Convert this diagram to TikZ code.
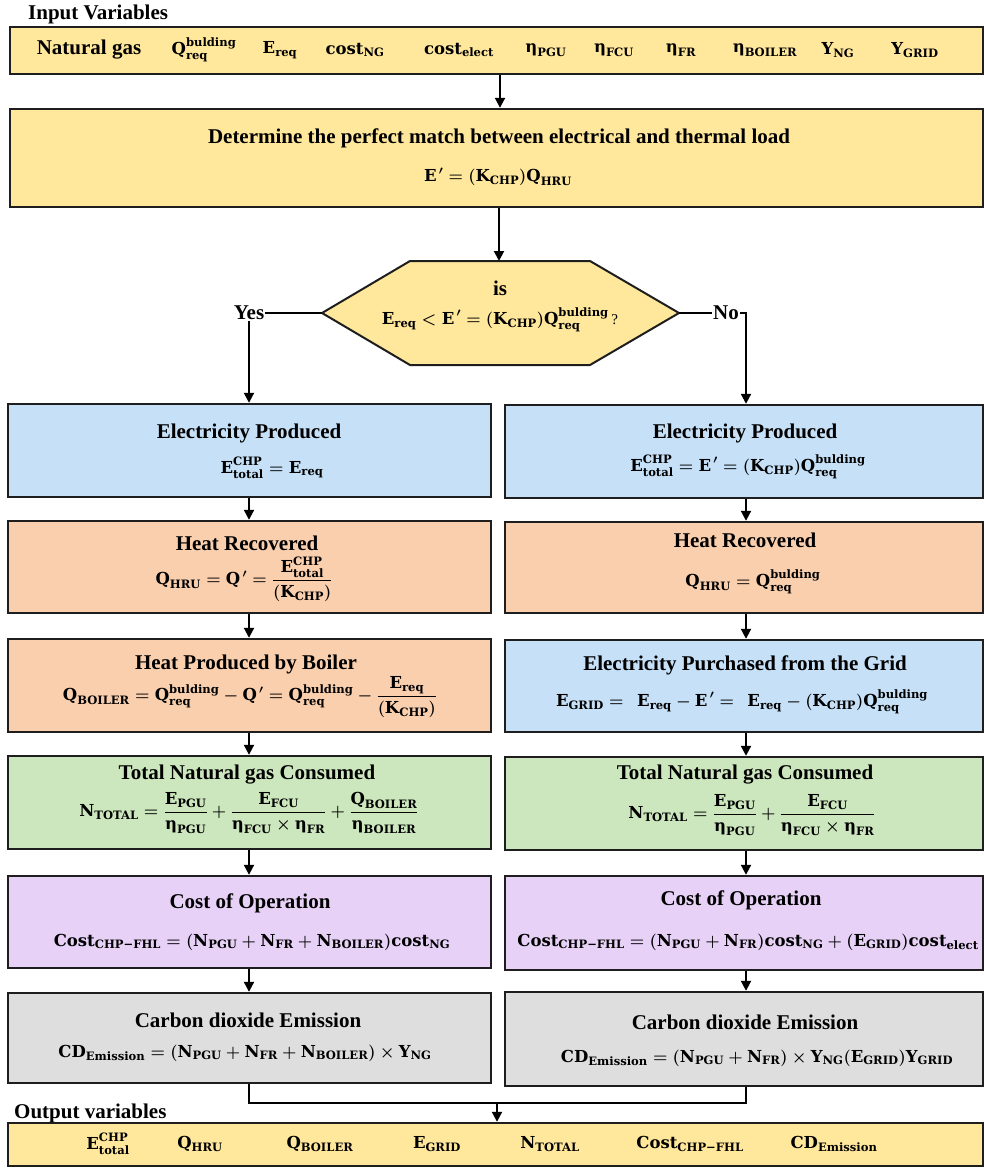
\RequirePackage{fix-cm}
\documentclass[tikz,border=0pt]{standalone}
\usepackage{amsmath}
\usepackage[no-math]{fontspec}
\setmainfont{Liberation Serif}
\newfontfamily\mfam{DejaVu Serif}
\usetikzlibrary{arrows.meta}
\definecolor{cyel}{HTML}{FFE89C}
\definecolor{cblue}{HTML}{C5E0F7}
\definecolor{cpeach}{HTML}{FACFAE}
\definecolor{cgreen}{HTML}{CCE7BD}
\definecolor{cpurp}{HTML}{E7D1F6}
\definecolor{cgray}{HTML}{DEDEDE}
\definecolor{cbord}{HTML}{1E1E1E}
\newcommand\mt[1]{\text{\mfam\bfseries #1}}
\newcommand\qv[2]{\mt{#1}_{\mt{#2}}}
\newcommand\qvv[3]{\mt{#1}_{\mt{#2}}^{\mt{#3}}}
\newcommand\etav[1]{\mt{η}_{\mt{#1}}}
\newcommand\Ups[1]{\mt{Υ}_{\mt{#1}}}
\newcommand\Qb{\qvv{Q}{req}{bulding}}
\newcommand\Et{\qvv{E}{total}{CHP}}
\newcommand\Ep{\mt{E}^{\,\prime}}
\newcommand\Qp{\mt{Q}^{\,\prime}}
\newcommand\Cst{\qv{Cost}{CHP−FHL}}
\tikzset{
  bx/.style={draw=cbord, line width=2.4pt, inner sep=0pt},
  ttl/.style={font=\fontsize{21}{24}\selectfont\bfseries, inner sep=1pt},
  fml/.style={font=\fontsize{16.5}{20}\selectfont\boldmath, inner sep=1pt},
  arr/.style={line width=2pt, draw=black, -{Triangle[length=10pt,width=10pt]}},
  ln/.style={line width=2pt, draw=black},
}
\begin{document}
\begin{tikzpicture}[x=1pt,y=-1pt]
\useasboundingbox (0,0) rectangle (984,1172);
% column guide coordinates
\coordinate (xL) at (249,0);
\coordinate (xR) at (746,0);
\coordinate (xM) at (500,0);
% input
\node[ttl, anchor=base west] (inlab) at (27,20) {Input Variables};
\node[bx, fill=cyel, minimum width=973pt, minimum height=47pt] (inbar) at (496.5,50.5) {};
\node[ttl] (i1) at (89,50) {Natural gas};
\node[fml] (i2) at (204,50) {$\Qb$};
\node[fml] (i3) at (280,50) {$\qv{E}{req}$};
\node[fml] (i4) at (355,50) {$\qv{cost}{NG}$};
\node[fml] (i5) at (459,50) {$\qv{cost}{elect}$};
\node[fml] (i6) at (546,50) {$\etav{PGU}$};
\node[fml] (i7) at (614,50) {$\etav{FCU}$};
\node[fml] (i8) at (681,50) {$\etav{FR}$};
\node[fml] (i9) at (765,50) {$\etav{BOILER}$};
\node[fml] (i10) at (838,50) {$\Ups{NG}$};
\node[fml] (i11) at (915,50) {$\Ups{GRID}$};
% determine box
\node[bx, fill=cyel, minimum width=973pt, minimum height=98pt] (det) at (496.5,158) {};
\node[ttl] (detT) at (499,138) {Determine the perfect match between electrical and thermal load};
\node[fml] (detF) at (498,177) {$\Ep = (\qv{K}{CHP})\qv{Q}{HRU}$};
% decision hexagon
\coordinate (hxL) at (322,313);
\coordinate (hxR) at (679,313);
\coordinate (hxT) at (499,261);
\draw[line width=2pt, draw=cbord, fill=cyel] (hxL) -- (410,261) -- (590,261) -- (hxR) -- (590,365) -- (410,365) -- cycle;
\node[ttl] (hxis) at (500,288) {is};
\node[fml] (hxF) at (500,320) {$\qv{E}{req} < \Ep = (\qv{K}{CHP})\Qb$\,{\fontsize{15}{17}\selectfont ?}};
\node[ttl] (yes) at (249,313) {Yes};
\node[ttl] (no) at (726,313) {No};
% left column boxes
\node[bx, fill=cblue, minimum width=483pt, minimum height=93pt] (eL) at (249.5,450.5) {};
\node[bx, fill=cpeach, minimum width=483pt, minimum height=92pt] (hL) at (249.5,567) {};
\node[bx, fill=cpeach, minimum width=483pt, minimum height=93pt] (bL) at (249.5,685.5) {};
\node[bx, fill=cgreen, minimum width=483pt, minimum height=93pt] (nL) at (249.5,802.5) {};
\node[bx, fill=cpurp, minimum width=483pt, minimum height=92pt] (kL) at (249.5,922) {};
\node[bx, fill=cgray, minimum width=483pt, minimum height=90pt] (dL) at (249.5,1038) {};
% right column boxes
\node[bx, fill=cblue, minimum width=478pt, minimum height=93pt] (eR) at (744,451.5) {};
\node[bx, fill=cpeach, minimum width=478pt, minimum height=91pt] (hR) at (744,567.5) {};
\node[bx, fill=cblue, minimum width=478pt, minimum height=92pt] (gR) at (744,686) {};
\node[bx, fill=cgreen, minimum width=478pt, minimum height=93pt] (nR) at (744,803.5) {};
\node[bx, fill=cpurp, minimum width=478pt, minimum height=94pt] (kR) at (744,923) {};
\node[bx, fill=cgray, minimum width=478pt, minimum height=94pt] (dR) at (744,1039) {};
% left texts
\node[ttl] (eLT) at (249,433) {Electricity Produced};
\node[fml] (eLF) at (272,468) {$\Et = \qv{E}{req}$};
\node[ttl] (hLT) at (247,543) {Heat Recovered};
\node[fml] (hLF) at (244,579) {$\qv{Q}{HRU} = \Qp = \dfrac{\Et}{(\qv{K}{CHP})}$};
\node[ttl] (bLT) at (246,664) {Heat Produced by Boiler};
\node[fml] (bLF) at (250,697) {$\qv{Q}{BOILER} = \Qb - \Qp = \Qb - \dfrac{\qv{E}{req}}{(\qv{K}{CHP})}$};
\node[ttl] (nLT) at (247,775) {Total Natural gas Consumed};
\node[fml] (nLF) at (249,813) {$\qv{N}{TOTAL} = \dfrac{\qv{E}{PGU}}{\etav{PGU}} + \dfrac{\qv{E}{FCU}}{\etav{FCU}\times\etav{FR}} + \dfrac{\qv{Q}{BOILER}}{\etav{BOILER}}$};
\node[ttl] (kLT) at (250,903) {Cost of Operation};
\node[fml] (kLF) at (252,942) {$\Cst = (\qv{N}{PGU} + \qv{N}{FR} + \qv{N}{BOILER})\qv{cost}{NG}$};
\node[ttl] (dLT) at (248,1020) {Carbon dioxide Emission};
\node[fml] (dLF) at (245,1053) {$\qv{CD}{Emission} = (\qv{N}{PGU} + \qv{N}{FR} + \qv{N}{BOILER})\times\Ups{NG}$};
% right texts
\node[ttl] (eRT) at (745,433) {Electricity Produced};
\node[fml] (eRF) at (748,467) {$\Et = \Ep = (\qv{K}{CHP})\Qb$};
\node[ttl] (hRT) at (745,540) {Heat Recovered};
\node[fml] (hRF) at (753,582) {$\qv{Q}{HRU} = \Qb$};
\node[ttl] (gRT) at (745,665) {Electricity Purchased from the Grid};
\node[fml] (gRF) at (742,702) {$\qv{E}{GRID} =\ \ \qv{E}{req} - \Ep =\ \ \qv{E}{req} - (\qv{K}{CHP})\Qb$};
\node[ttl] (nRT) at (745,775) {Total Natural gas Consumed};
\node[fml] (nRF) at (752,815) {$\qv{N}{TOTAL} = \dfrac{\qv{E}{PGU}}{\etav{PGU}} + \dfrac{\qv{E}{FCU}}{\etav{FCU}\times\etav{FR}}$};
\node[ttl] (kRT) at (741,900) {Cost of Operation};
\node[fml] (kRF) at (748,942) {$\Cst = (\qv{N}{PGU} + \qv{N}{FR})\qv{cost}{NG} + (\qv{E}{GRID})\qv{cost}{elect}$};
\node[ttl] (dRT) at (745,1022) {Carbon dioxide Emission};
\node[fml] (dRF) at (757,1058) {$\qv{CD}{Emission} = (\qv{N}{PGU} + \qv{N}{FR})\times\Ups{NG}(\qv{E}{GRID})\Ups{GRID}$};
% output
\node[ttl, anchor=base west] (outlab) at (13,1118) {Output variables};
\node[bx, fill=cyel, minimum width=975pt, minimum height=43pt] (outbar) at (495.5,1144.5) {};
\node[fml] (o1) at (108,1144) {$\Et$};
\node[fml] (o2) at (200,1144) {$\qv{Q}{HRU}$};
\node[fml] (o3) at (320,1144) {$\qv{Q}{BOILER}$};
\node[fml] (o4) at (437,1144) {$\qv{E}{GRID}$};
\node[fml] (o5) at (550,1144) {$\qv{N}{TOTAL}$};
\node[fml] (o6) at (690,1144) {$\Cst$};
\node[fml] (o7) at (834,1144) {$\qv{CD}{Emission}$};
% connectors
\draw[arr] (inbar.south -| xM) -- (det.north -| xM);
\draw[arr] (det.south -| hxT) -- (hxT);
\draw[ln] (yes.east) -- (hxL);
\draw[ln] (hxR) -- (no.west);
\draw[arr] (yes.south) -- (yes.south |- eL.north);
\draw[arr] (no.east) -| (xR |- eR.north);
\draw[arr] (eL.south -| xL) -- (hL.north -| xL);
\draw[arr] (hL.south -| xL) -- (bL.north -| xL);
\draw[arr] (bL.south -| xL) -- (nL.north -| xL);
\draw[arr] (nL.south -| xL) -- (kL.north -| xL);
\draw[arr] (kL.south -| xL) -- (dL.north -| xL);
\draw[arr] (eR.south -| xR) -- (hR.north -| xR);
\draw[arr] (hR.south -| xR) -- (gR.north -| xR);
\draw[arr] (gR.south -| xR) -- (nR.north -| xR);
\draw[arr] (nR.south -| xR) -- (kR.north -| xR);
\draw[arr] (kR.south -| xR) -- (dR.north -| xR);
\coordinate (jL) at (249,1103);
\coordinate (jR) at (746,1103);
\coordinate (jM) at (497,1103);
\draw[ln] (dL.south -| xL) -- (jL) -- (jR) -- (dR.south -| xR);
\draw[arr] (jM) -- (outbar.north -| jM);
\end{tikzpicture}
\end{document}
